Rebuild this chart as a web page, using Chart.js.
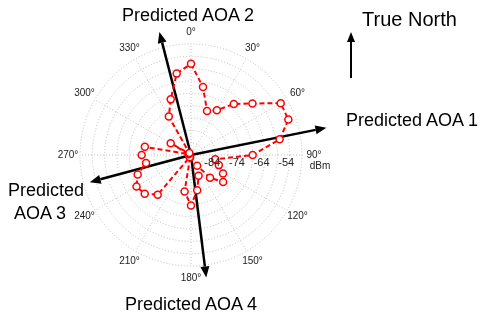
<!DOCTYPE html>
<html>
<head>
<meta charset="utf-8">
<script src="https://cdn.jsdelivr.net/npm/chart.js@4.4.0/dist/chart.umd.min.js"></script>
<style>
html, body { margin: 0; padding: 0; background: #fff; }
#wrap { position: relative; width: 485px; height: 321px; }
.lbl { position: absolute; font-family: Arial, "Liberation Sans", sans-serif; color: #000; white-space: nowrap; line-height: 1; }
#north { position: absolute; left: 0; top: 0; }
</style>
</head>
<body>
<div id="wrap">
  <canvas id="polar" width="485" height="321"></canvas>
  <div class="lbl" style="left:122px; top:6px; font-size:18px">Predicted AOA 2</div>
  <div class="lbl" style="left:346px; top:111px; font-size:18px">Predicted AOA 1</div>
  <div class="lbl" style="left:8px; top:181px; font-size:18px">Predicted</div>
  <div class="lbl" style="left:14px; top:204px; font-size:18px">AOA 3</div>
  <div class="lbl" style="left:125px; top:295px; font-size:18px">Predicted AOA 4</div>
  <div class="lbl" style="left:362px; top:9px; font-size:20px">True North</div>
  <svg id="north" width="485" height="321">
    <line x1="351" y1="78" x2="351" y2="40" stroke="#000" stroke-width="2"/>
    <polygon points="351,32 347,42 355,42" fill="#000"/>
  </svg>
</div>
<script>
// angle of each measurement, degrees clockwise from north
const bearings = ['0', '10', '20', '30', '40', '50', '60', '70', '80', '90', '100', '110',
  '120', '130', '140', '150', '160', '170', '180', '190', '200', '210', '220', '230',
  '240', '250', '260', '270', '280', '290', '300', '310', '320', '330', '340', '350'];

// received signal strength (dBm)
const rssi = [-52, -61, -70, -68, -62, -56.5, -47, -47, -52.5, -64, -79, -77,
  -74, -72, -77, -84, -80, -74.5, -68.5, -74, -88, -88, -68, -64.5,
  -63.5, -66, -70.5, -69, -70, -88, -79.5, -88, -88, -71, -65, -55.5];

const angleTicks = ['0°', '30°', '60°', '90°', '120°', '150°', '180°', '210°', '240°', '270°', '300°', '330°'];
const rTicks = [-84, -74, -64, -54];

// predicted angle of arrival arrows: bearing (deg) and reach (dBm scale)
const aoaBearing = [78.6, 345.6, 255, 172.9];
const aoaReach = [-33, -37.5, -46.5, -39];

const rMin = -89;
const rMax = -44;

function arrow(ctx, x0, y0, x1, y1) {
    const a = Math.atan2(y1 - y0, x1 - x0);
    const head = 11, half = 4.5;
    const bx = x1 - head * Math.cos(a), by = y1 - head * Math.sin(a);
    ctx.beginPath();
    ctx.moveTo(x0, y0);
    ctx.lineTo(bx, by);
    ctx.stroke();
    ctx.beginPath();
    ctx.moveTo(x1, y1);
    ctx.lineTo(bx + half * Math.sin(a), by - half * Math.cos(a));
    ctx.lineTo(bx - half * Math.sin(a), by + half * Math.cos(a));
    ctx.closePath();
    ctx.fill();
}

const polarExtras = {
    id: 'polarExtras',
    beforeDatasetsDraw(chart) {
        const s = chart.scales.r;
        const ctx = chart.ctx;
        const step = 360 / bearings.length;
        ctx.save();
        ctx.strokeStyle = '#000';
        ctx.fillStyle = '#000';
        ctx.lineWidth = 2.5;
        aoaBearing.forEach((b, i) => {
            const tip = s.getPointPosition(b / step, s.getDistanceFromCenterForValue(aoaReach[i]));
            arrow(ctx, s.xCenter, s.yCenter, tip.x, tip.y);
        });
        ctx.restore();
    },
    afterDraw(chart) {
        const s = chart.scales.r;
        const ctx = chart.ctx;
        const every = bearings.length / angleTicks.length;
        ctx.save();
        ctx.fillStyle = '#222';
        ctx.font = '10px Arial, "Liberation Sans", sans-serif';
        ctx.textAlign = 'center';
        ctx.textBaseline = 'middle';
        angleTicks.forEach((t, k) => {
            const p = s.getPointPosition(k * every, s.drawingArea + 12);
            ctx.fillText(t, p.x, p.y);
        });
        const p90 = s.getPointPosition(bearings.length / 4, s.drawingArea + 12);
        ctx.fillText('dBm', p90.x + 6, p90.y + 11);
        ctx.font = '11px Arial, "Liberation Sans", sans-serif';
        ctx.textAlign = 'left';
        rTicks.forEach(v => {
            ctx.fillText(String(v), s.xCenter + s.getDistanceFromCenterForValue(v) + 1, s.yCenter + 8);
        });
        ctx.restore();
    }
};

const ctx = document.getElementById('polar').getContext('2d');
const chart = new Chart(ctx, {
    type: 'radar',
    data: {
        labels: bearings,
        datasets: [{
            data: rssi,
            borderColor: '#ff0000',
            borderWidth: 2,
            borderDash: [5, 3],
            fill: false,
            tension: 0,
            pointRadius: 3.5,
            pointBorderWidth: 1.5,
            pointBorderColor: '#ff0000',
            pointBackgroundColor: '#ffffff'
        }]
    },
    options: {
        responsive: false,
        animation: false,
        layout: { padding: { left: 80, right: 182, top: 44, bottom: 54 } },
        plugins: { legend: { display: false }, tooltip: { enabled: false } },
        scales: {
            r: {
                min: rMin,
                max: rMax,
                ticks: { display: false, stepSize: 5 },
                pointLabels: { display: false },
                grid: { circular: true, color: '#bdbdbd', lineWidth: 1 },
                border: { dash: [1, 2] },
                angleLines: {
                    display: true,
                    lineWidth: 1,
                    color: c => (c.index % 3 === 0 ? '#c4c4c4' : 'rgba(0,0,0,0)'),
                    borderDash: [1, 2]
                }
            }
        }
    },
    plugins: [polarExtras]
});
</script>
</body>
</html>
